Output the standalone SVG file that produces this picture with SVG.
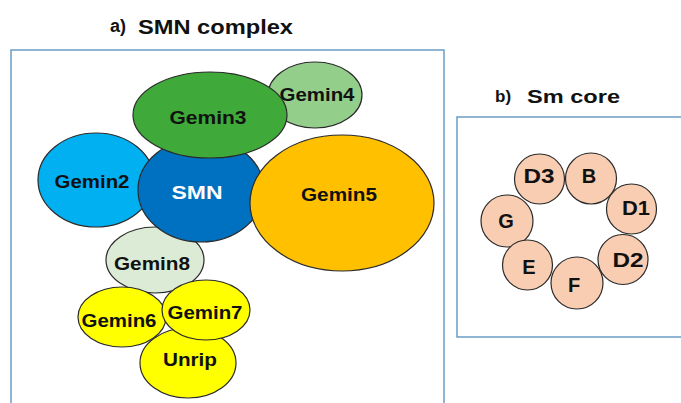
<svg xmlns="http://www.w3.org/2000/svg" width="681" height="403" viewBox="0 0 681 403">
<style>
text{font-family:"Liberation Sans",Arial,sans-serif;font-weight:bold;fill:#111;text-anchor:middle}
.lbl{font-size:19px}
.sml{font-size:20px}
.ttl{font-size:21px;text-anchor:start}
.frame{fill:none;stroke:#6b9dc4;stroke-width:1.5}
ellipse,circle{stroke:#2a2a2a;stroke-width:1.2}
.sm{fill:#f8cdb2}
.y{fill:#ffff00}
</style>
<rect width="681" height="403" fill="#fff"/>
<g id="panel-a">
<text class="ttl" x="110" y="32" style="font-size:18px">a)</text>
<text class="ttl" x="138" y="34" textLength="155" lengthAdjust="spacingAndGlyphs">SMN complex</text>
<rect class="frame" x="11" y="50" width="433" height="370"/>
</g>
<g id="panel-b">
<text class="ttl" x="495" y="102" style="font-size:17px">b)</text>
<text class="ttl" x="527" y="103" style="font-size:18px" textLength="93" lengthAdjust="spacingAndGlyphs">Sm core</text>
<rect class="frame" x="457" y="117" width="240" height="220"/>
</g>
<g id="connectors"></g>
<g id="Gemin4"><ellipse cx="315" cy="95" rx="47" ry="33" fill="#93cf8b"/><text class="lbl" x="317" y="101" textLength="75" lengthAdjust="spacingAndGlyphs">Gemin4</text></g>
<g id="Gemin2"><ellipse cx="96" cy="180" rx="58" ry="47" fill="#00b0f0"/><text class="lbl" x="92" y="188" textLength="75" lengthAdjust="spacingAndGlyphs">Gemin2</text></g>
<g id="Gemin8"><ellipse cx="155" cy="260" rx="49" ry="33" fill="#dbebd6"/><text class="lbl" x="152" y="270" textLength="76" lengthAdjust="spacingAndGlyphs">Gemin8</text></g>
<g id="SMN"><ellipse cx="201" cy="190" rx="63" ry="52" fill="#0070c0"/><text class="lbl" x="197" y="199" style="fill:#fff" textLength="51" lengthAdjust="spacingAndGlyphs">SMN</text></g>
<g id="Gemin3"><ellipse cx="210" cy="115" rx="77" ry="43" fill="#3fa93a"/><text class="lbl" x="208" y="124" textLength="77" lengthAdjust="spacingAndGlyphs">Gemin3</text></g>
<g id="Gemin5"><ellipse cx="342" cy="203" rx="92" ry="68" fill="#ffc000"/><text class="lbl" x="339" y="201" textLength="76" lengthAdjust="spacingAndGlyphs">Gemin5</text></g>
<g id="Unrip"><ellipse class="y" cx="188" cy="363" rx="48" ry="35"/><text class="lbl" x="190" y="366" textLength="54" lengthAdjust="spacingAndGlyphs">Unrip</text></g>
<g id="Gemin6"><ellipse class="y" cx="122" cy="317" rx="44" ry="30"/><text class="lbl" x="119" y="327" textLength="75" lengthAdjust="spacingAndGlyphs">Gemin6</text></g>
<g id="Gemin7"><ellipse class="y" cx="206" cy="310" rx="44" ry="30"/><text class="lbl" x="205" y="319" textLength="75" lengthAdjust="spacingAndGlyphs">Gemin7</text></g>
<g id="D3"><circle class="sm" cx="539.5" cy="179" r="25"/><text class="sml" x="539" y="183" textLength="31" lengthAdjust="spacingAndGlyphs">D3</text></g>
<g id="B"><circle class="sm" cx="591" cy="178.5" r="25.5"/><text class="sml" x="589" y="183">B</text></g>
<g id="D1"><circle class="sm" cx="631.5" cy="209" r="25"/><text class="sml" x="636" y="215" textLength="28" lengthAdjust="spacingAndGlyphs">D1</text></g>
<g id="G"><circle class="sm" cx="507" cy="221" r="26"/><text class="sml" x="506" y="228">G</text></g>
<g id="E"><circle class="sm" cx="527.5" cy="265" r="25"/><text class="sml" x="529" y="274">E</text></g>
<g id="D2"><circle class="sm" cx="623" cy="259.5" r="25"/><text class="sml" x="628" y="267" textLength="31" lengthAdjust="spacingAndGlyphs">D2</text></g>
<g id="F"><circle class="sm" cx="577" cy="283" r="26"/><text class="sml" x="574" y="292">F</text></g>
</svg>
